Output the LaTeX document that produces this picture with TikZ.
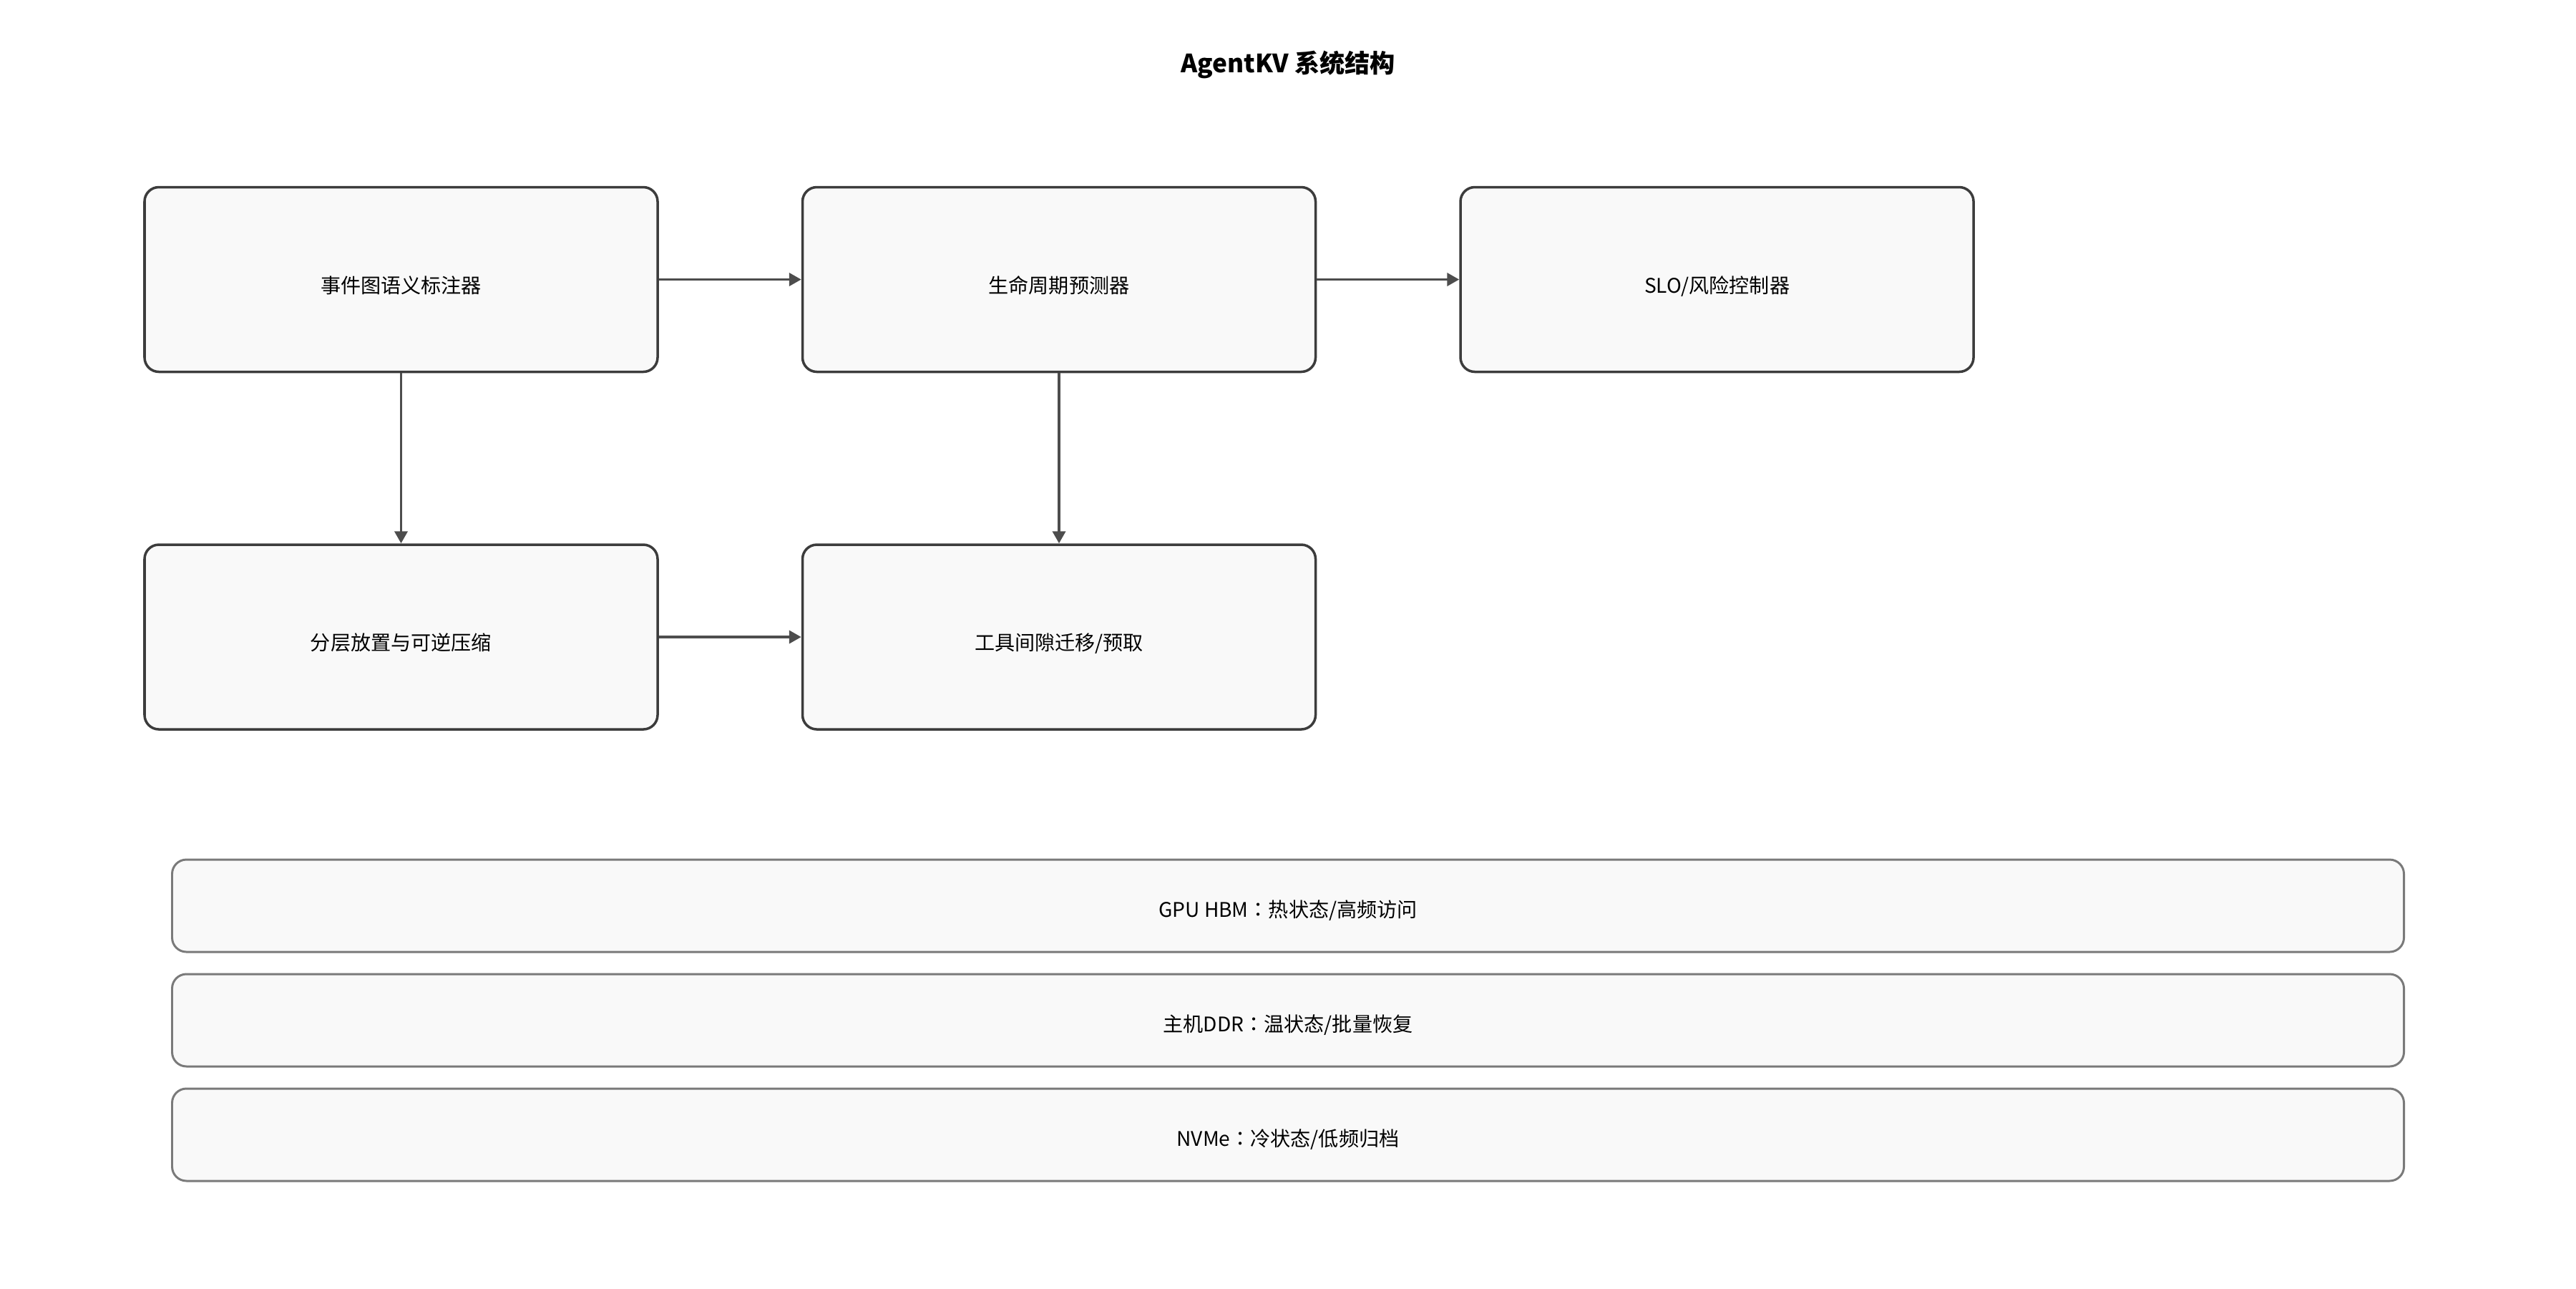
\documentclass[tikz,border=0pt]{standalone}
\usepackage{fontspec}
\setmainfont{Noto Sans CJK SC}
\newfontfamily\tcfont{Noto Sans CJK TC}
\newcommand\colonmark{{\tcfont ：}}
\usetikzlibrary{positioning,arrows.meta}
\definecolor{boxfill}{HTML}{F9F9F9}
\definecolor{boxline}{HTML}{3C3C3C}
\definecolor{arrowline}{HTML}{4D4D4D}
\definecolor{tierline}{HTML}{7A7A7A}
\tikzset{
  module/.style={draw=boxline, line width=1pt, fill=boxfill, rounded corners=0.2cm,
    minimum width=7.17cm, minimum height=2.58cm, font=\fontsize{8}{10}\selectfont,
    text height=0.4cm, text depth=0.03cm},
  tier/.style={draw=tierline, line width=0.85pt, fill=boxfill, rounded corners=0.2cm,
    minimum width=31.19cm, minimum height=1.29cm, font=\fontsize{8}{10}\selectfont,
    text height=0.34cm, text depth=0.03cm},
  flow/.style={draw=arrowline, line width=1.1pt, -{Triangle[length=0.17cm,width=0.18cm]}}
}
\begin{document}
\begin{tikzpicture}
      \useasboundingbox (0,0) rectangle (36,-18);
      \node (title) at (18,-0.9) {\fontsize{10}{12}\selectfont\bfseries AgentKV 系统结构};
      \node[module] (tag) at (5.605,-3.905) {事件图语义标注器};
      \node[module, right=1.99cm of tag] (life) {生命周期预测器};
      \node[module, right=1.99cm of life] (slo) {SLO/风险控制器};
      \node[module, below=2.38cm of tag] (place) {分层放置与可逆压缩};
      \node[module, below=2.38cm of life] (gap) {工具间隙迁移/预取};
      \node[tier] (hbm) at (18,-12.655) {GPU HBM\colonmark 热状态/高频访问};
      \node[tier, below=0.28cm of hbm] (ddr) {主机DDR\colonmark 温状态/批量恢复};
      \node[tier, below=0.28cm of ddr] (nvme) {NVMe\colonmark 冷状态/低频归档};
      \begin{scope}[flow]
        \draw (tag) to (life);
        \draw (life) to (slo);
        \draw (tag) to (place);
        \draw (life) to (gap);
        \draw (place) to (gap);
      \end{scope}
    \end{tikzpicture}
\end{document}
